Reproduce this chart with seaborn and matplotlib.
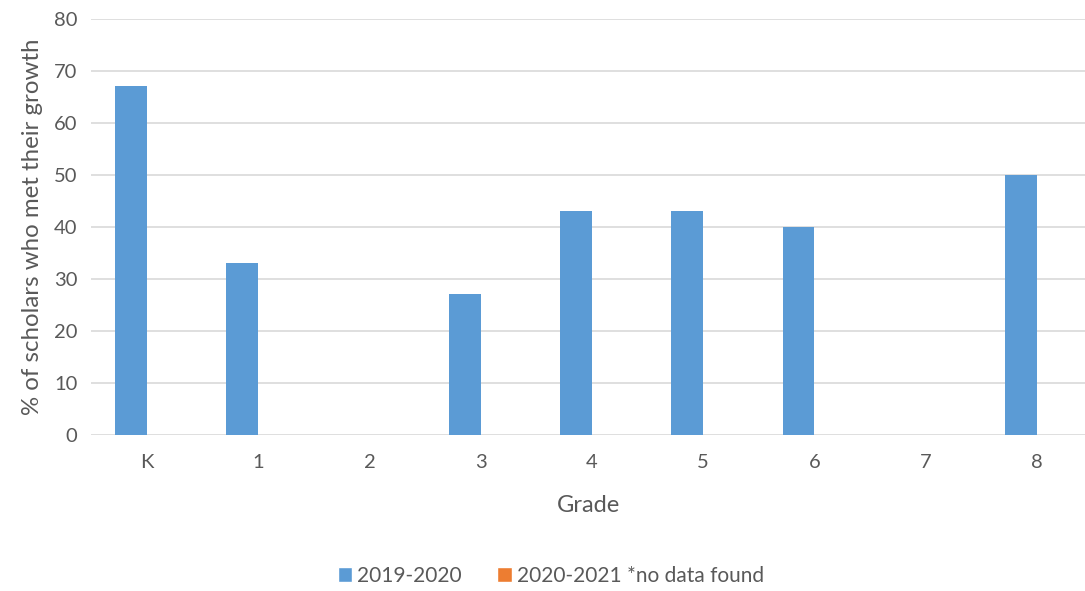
import matplotlib
matplotlib.use("Agg")
import matplotlib.pyplot as plt
import seaborn as sns
import pandas as pd
from matplotlib.patches import Patch

grades = ["K", "1", "2", "3", "4", "5", "6", "7", "8"]
values_2019 = [67, 33, 0, 27, 43, 43, 40, 0, 50]
values_2020 = [0, 0, 0, 0, 0, 0, 0, 0, 0]
series = ["2019-2020", "2020-2021 *no data found"]
yticks = [0, 10, 20, 30, 40, 50, 60, 70, 80]

sns.set_theme(style="white")
plt.rcParams['font.family'] = ['Lato', 'DejaVu Sans']

df = pd.DataFrame({
    "Grade": grades * 2,
    "val": values_2019 + values_2020,
    "Series": [series[0]] * len(grades) + [series[1]] * len(grades),
})

blue = "#5B9BD5"
orange = "#ED7D31"
grey = "#595959"

fig = plt.figure(figsize=(10.85, 5.91), dpi=100)
ax = fig.add_axes([91.4 / 1085, 1 - 434.7 / 591, (1085 - 91.4) / 1085, (434.7 - 18.7) / 591])

sns.barplot(data=df, x="Grade", y="val", hue="Series", order=grades,
            hue_order=series, palette=[blue, orange], width=0.575,
            saturation=1, ax=ax, legend=False, linewidth=0)

ax.set_xlim(-0.5, 8.5 - (1092.6 - 1085) / 111.25)
ax.set_ylim(0, 80)
ax.set_yticks(yticks)
ax.yaxis.grid(True, color="#D9D9D9", linewidth=1.2)
ax.set_axisbelow(True)
for s in ax.spines.values():
    s.set_visible(False)
ax.tick_params(axis="both", length=0, labelsize=14.5, colors=grey, pad=10)
ax.tick_params(axis="x", pad=14)
ax.set_xlabel("Grade", fontsize=17, color=grey, labelpad=17)
ax.set_ylabel("% of scholars who met their growth", fontsize=17.3, color=grey, labelpad=8)

handles = [Patch(facecolor=blue), Patch(facecolor=orange)]
fig.legend(handles, series, loc="center", bbox_to_anchor=(551 / 1085, 1 - 576 / 591),
           ncol=2, frameon=False, fontsize=15, labelcolor=grey,
           handlelength=0.7, handleheight=0.7, handletextpad=0.25, columnspacing=1.7)

fig.savefig("out.png", dpi=100)
